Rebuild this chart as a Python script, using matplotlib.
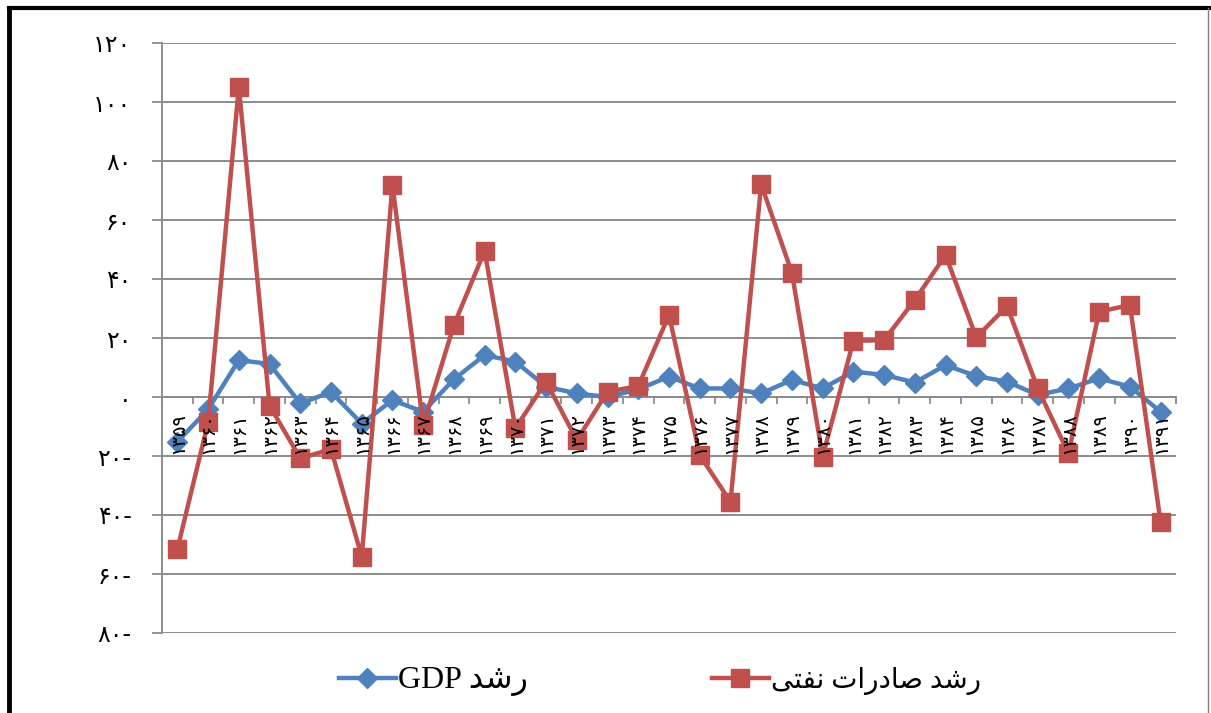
import matplotlib
matplotlib.use("Agg")
import matplotlib.pyplot as plt
from matplotlib.lines import Line2D

# data (growth, percent)
years = list(range(1359, 1392))
gdp_growth = [-15.2, -4.2, 12.5, 11.2, -2.2, 1.7, -9.0, -1.1, -5.0, 6.0,
              14.2, 12.0, 3.5, 1.2, 0.0, 2.6, 6.9, 2.9, 2.9, 1.2,
              5.8, 2.9, 8.6, 7.5, 4.9, 10.8, 7.1, 5.2, 0.7, 2.9,
              6.3, 3.5, -5.0]
oil_growth = [-51.6, -8.6, 105.2, -2.9, -20.8, -17.7, -54.1, 71.9, -9.5, 24.4,
              49.5, -10.6, 5.2, -14.6, 1.8, 3.7, 27.8, -19.7, -35.5, 72.1,
              42.1, -20.2, 19.0, 19.3, 32.9, 48.1, 20.2, 30.8, 2.9, -19.1,
              28.9, 31.2, -42.5]

yticks = [-80, -60, -40, -20, 0, 20, 40, 60, 80, 100, 120]
ytick_labels = ["۸۰-", "۶۰-", "۴۰-", "۲۰-", "۰", "۲۰", "۴۰", "۶۰", "۸۰", "۱۰۰", "۱۲۰"]

# Persian digits for the year labels
FA_DIGITS = str.maketrans("0123456789", "۰۱۲۳۴۵۶۷۸۹")
year_labels = [str(y).translate(FA_DIGITS) for y in years]

# legend texts in visual (left-to-right) order with presentation forms,
# since matplotlib does no Arabic shaping
ROSHD = "\uFEAA\uFEB7\uFEAD"                          # رشد
SADERAT = "\uFE95\uFE8D\uFEAD\uFEA9\uFE8E\uFEBB"      # صادرات
NAFTI = "\uFEF0\uFE98\uFED4\uFEE7"                    # نفتی
gdp_label = "GDP " + ROSHD
oil_label = NAFTI + " " + SADERAT + " " + ROSHD

BLUE = "#4F81BD"
RED = "#C0504D"
GRID = "#8C8C8C"

W, H = 1211, 713
fig = plt.figure(figsize=(W / 100, H / 100), dpi=100)
ax = fig.add_axes([162 / W, 1 - 633 / H, (1176 - 162) / W, (633 - 43) / H])

x = list(range(len(years)))
l_gdp, = ax.plot(x, gdp_growth, color=BLUE, lw=3.2, marker="D", markersize=10,
                 zorder=3, label=gdp_label)
l_oil, = ax.plot(x, oil_growth, color=RED, lw=3.2, marker="s", markersize=13.5,
                 zorder=4, label=oil_label)

ax.set_xlim(-0.5, len(years) - 0.5)
ax.set_ylim(-80, 120)

# y axis
ax.set_yticks(yticks)
ax.set_yticklabels(ytick_labels, fontsize=17, family="DejaVu Sans")
ax.tick_params(axis="y", length=7, width=1.3, color=GRID, pad=15)
ax.yaxis.grid(True, color=GRID, lw=1.4)
ax.set_axisbelow(True)

# category axis crossing at zero, ticks between categories
for s in ["top", "right"]:
    ax.spines[s].set_visible(False)
ax.spines["left"].set_color(GRID)
ax.spines["left"].set_linewidth(1.4)
ax.spines["bottom"].set_position(("data", 0))
ax.spines["bottom"].set_color(GRID)
ax.spines["bottom"].set_linewidth(1.4)
ax.set_xticks([i - 0.5 for i in range(len(years) + 1)])
ax.set_xticklabels([])
ax.tick_params(axis="x", length=5, width=1.3, color=GRID, direction="out")

# year labels on top of the lines
for i, lab in enumerate(year_labels):
    ax.annotate(lab, xy=(i, 0), xytext=(0, -11), textcoords="offset points",
                rotation=90, ha="center", va="top", fontsize=14,
                family="DejaVu Sans", zorder=6)

leg = fig.legend(handles=[l_gdp, l_oil], loc="center",
                 bbox_to_anchor=(660 / W, 1 - 681 / H), ncol=2, frameon=False,
                 prop={"family": ["Liberation Serif", "DejaVu Sans"], "size": 20},
                 handlelength=2.05, handletextpad=0.1, columnspacing=6.6)
leg.get_texts()[0].set_fontsize(23)

# chart border
fig.add_artist(Line2D([9 / W, 1], [1 - 8 / H, 1 - 8 / H], transform=fig.transFigure,
                      color="black", lw=3))
fig.add_artist(Line2D([9 / W, 9 / W], [0, 1 - 8 / H], transform=fig.transFigure,
                      color="black", lw=3.5))
fig.add_artist(Line2D([1208 / W, 1208 / W], [0, 1 - 8 / H], transform=fig.transFigure,
                      color="#7F7F7F", lw=1))

fig.savefig("out.png", dpi=100)
